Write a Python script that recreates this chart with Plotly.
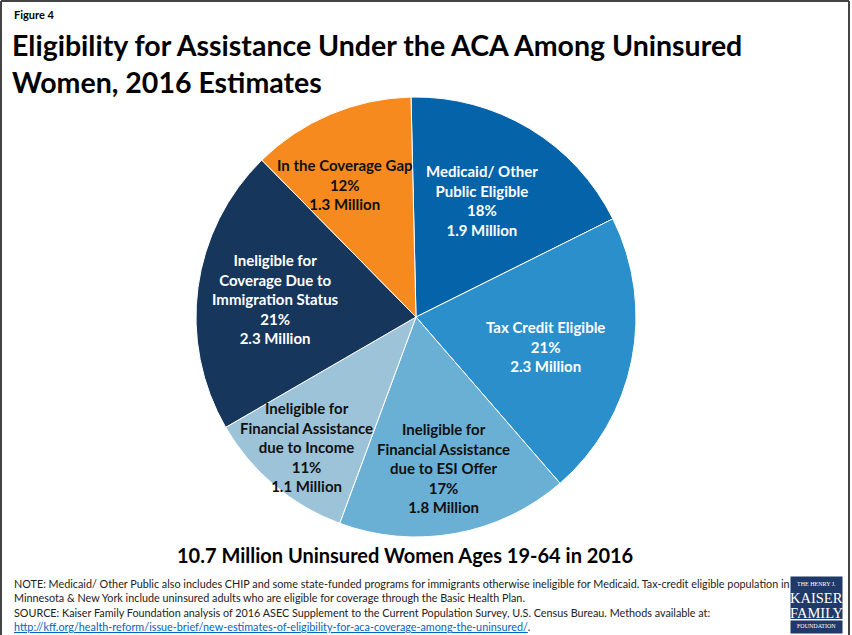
import plotly.graph_objects as go

# Slice data (clockwise from 12 o'clock)
categories = [
    "Medicaid/ Other<br>Public Eligible",
    "Tax Credit Eligible",
    "Ineligible for<br>Financial Assistance<br>due to ESI Offer",
    "Ineligible for<br>Financial Assistance<br>due to Income",
    "Ineligible for<br>Coverage Due to<br>Immigration Status",
    "In the Coverage Gap",
]
shares_pct = [18, 21, 17, 11, 21, 12]
millions = [1.9, 2.3, 1.8, 1.1, 2.3, 1.3]

colors = ["#0563AA", "#2A8FCB", "#6AAFD4", "#9DC3D9", "#16365C", "#F68A1E"]
label_colors = ["white", "white", "#111111", "#111111", "white", "#111111"]
# label anchor points in pixels (x, y) within the 852x635 page
label_px = [(482, 201), (545, 346), (443, 468), (306, 447), (275, 299), (345, 184)]

W, H = 852, 635


def px_x(x):
    return x / W


def px_y(y):
    return 1 - y / H


# pie geometry in pixels
cx, cy, r = 416, 317, 220

fig = go.Figure(
    go.Pie(
        values=shares_pct,
        labels=[c.replace("<br>", " ") for c in categories],
        sort=False,
        direction="clockwise",
        rotation=-1.3,
        marker=dict(colors=colors, line=dict(color="white", width=1)),
        textinfo="none",
        hoverinfo="label+percent",
        showlegend=False,
        domain=dict(x=[px_x(cx - r), px_x(cx + r)], y=[px_y(cy + r), px_y(cy - r)]),
    )
)

annotations = []
for name, pct, mil, col, (lx, ly) in zip(categories, shares_pct, millions, label_colors, label_px):
    annotations.append(dict(
        x=px_x(lx), y=px_y(ly), xref="paper", yref="paper",
        xanchor="center", yanchor="middle",
        text=f"<b>{name}<br>{pct}%<br>{mil} Million</b>",
        showarrow=False, align="center",
        font=dict(family="Lato", size=15, color=col),
    ))

# Headings
annotations.append(dict(
    x=px_x(12), y=px_y(15), xref="paper", yref="paper", xanchor="left", yanchor="middle",
    text="<b>Figure 4</b>", showarrow=False,
    font=dict(family="Lato", size=11, color="black"),
))
annotations.append(dict(
    x=px_x(10), y=px_y(63.5), xref="paper", yref="paper", xanchor="left", yanchor="middle",
    text="<b>Eligibility for Assistance Under the ACA Among Uninsured<br>Women, 2016 Estimates</b>",
    showarrow=False, align="left",
    font=dict(family="Lato", size=28.5, color="black"),
))
annotations.append(dict(
    x=px_x(405), y=px_y(555), xref="paper", yref="paper", xanchor="center", yanchor="middle",
    text="<b>10.7 Million Uninsured Women Ages 19-64 in 2016</b>", showarrow=False,
    font=dict(family="Lato", size=20, color="black"),
))

notes = [
    "NOTE: Medicaid/ Other Public also includes CHIP and some state-funded programs for immigrants otherwise ineligible for Medicaid. Tax-credit eligible population in",
    "Minnesota & New York include uninsured adults who are eligible for coverage through the Basic Health Plan.",
    "SOURCE: Kaiser Family Foundation analysis of 2016 ASEC Supplement to the Current Population Survey, U.S. Census Bureau. Methods available at:",
    "<span style='color:#0563C1;text-decoration:underline'>http://kff.org/health-reform/issue-brief/new-estimates-of-eligibility-for-aca-coverage-among-the-uninsured/</span>.",
]
note_y = [583, 597.5, 612, 626]
for t, y in zip(notes, note_y):
    annotations.append(dict(
        x=px_x(12), y=px_y(y), xref="paper", yref="paper", xanchor="left", yanchor="middle",
        text=t, showarrow=False, font=dict(family="Lato", size=10.8, color="#222222"),
    ))

# Foundation logo: navy block drawn after the notes so it covers them, then its lettering
annotations.append(dict(
    x=px_x(816.5), y=px_y(605), xref="paper", yref="paper", xanchor="center", yanchor="middle",
    text=" ", showarrow=False, width=51, height=56, bgcolor="#1F3A68", borderpad=0,
    font=dict(size=6),
))
logo_lines = [
    ("THE HENRY J.", 6, 584),
    ("KAISER", 14.5, 598),
    ("<span style='text-decoration:underline'>FAMILY</span>", 14.5, 613),
    ("FOUNDATION", 6, 626),
]
for t, s, y in logo_lines:
    annotations.append(dict(
        x=px_x(816.5), y=px_y(y), xref="paper", yref="paper", xanchor="center", yanchor="middle",
        text=t, showarrow=False, font=dict(family="Liberation Serif", size=s, color="white"),
    ))

# page frame (left, top, right)
frame = "#444444"
shapes = [
    dict(type="line", xref="paper", yref="paper", x0=px_x(1), x1=px_x(1), y0=0, y1=px_y(1),
         line=dict(color=frame, width=2)),
    dict(type="line", xref="paper", yref="paper", x0=px_x(1), x1=px_x(849), y0=px_y(1), y1=px_y(1),
         line=dict(color=frame, width=2)),
    dict(type="line", xref="paper", yref="paper", x0=px_x(849), x1=px_x(849), y0=0, y1=px_y(1),
         line=dict(color=frame, width=2)),
]

fig.update_layout(
    width=W, height=H,
    margin=dict(l=0, r=0, t=0, b=0),
    paper_bgcolor="white", plot_bgcolor="white",
    annotations=annotations, shapes=shapes,
)

fig.write_html("out.html")
